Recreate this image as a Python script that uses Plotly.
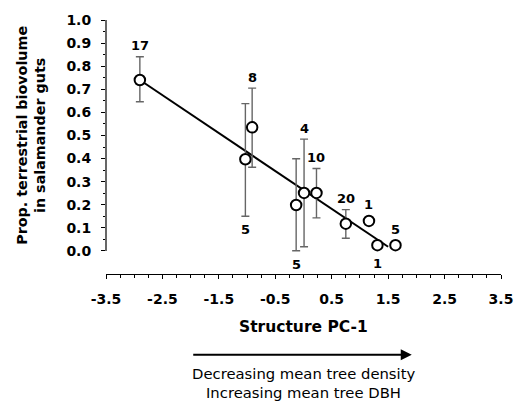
import plotly.graph_objects as go

# ---- data ----
pc1 = [-2.90, -1.03, -0.91, -0.13, 0.01, 0.23, 0.75, 1.16, 1.31, 1.63]
prop = [0.740, 0.397, 0.535, 0.199, 0.251, 0.251, 0.118, 0.130, 0.025, 0.025]
err_plus = [0.101, 0.241, 0.170, 0.200, 0.233, 0.106, 0.061, 0.0, 0.0, 0.0]
err_minus = [0.094, 0.247, 0.173, 0.198, 0.233, 0.108, 0.063, 0.0, 0.0, 0.0]
n_sal = [17, 5, 8, 5, 4, 10, 20, 1, 1, 5]
label_side = ["above", "below", "above", "below", "above", "above", "above", "above", "below", "above"]

fit_x = [-2.90, 1.50]
fit_y = [0.740, 0.018]

x_ticks = [-3.5, -2.5, -1.5, -0.5, 0.5, 1.5, 2.5, 3.5]
x_ticktext = ["-3.5", "-2.5", "-1.5", "-0.5", "0.5", "1.5", "2.5", "3.5"]
y_ticks = [0.0, 0.1, 0.2, 0.3, 0.4, 0.5, 0.6, 0.7, 0.8, 0.9, 1.0]
y_ticktext = ["0.0", "0.1", "0.2", "0.3", "0.4", "0.5", "0.6", "0.7", "0.8", "0.9", "1.0"]
y_minor = [0.05, 0.15, 0.25, 0.35, 0.45, 0.55, 0.65, 0.75, 0.85, 0.95]

x_title = "Structure PC-1"
y_title = "Prop. terrestrial biovolume<br>in salamander guts"
arrow_lines = ["Decreasing mean tree density", "Increasing mean tree DBH"]

FONT = "DejaVu Sans"

fig = go.Figure()

# regression line
fig.add_trace(go.Scatter(x=fit_x, y=fit_y, mode="lines",
                         line=dict(color="black", width=2), hoverinfo="skip",
                         showlegend=False))

# points with asymmetric error bars
fig.add_trace(go.Scatter(
    x=pc1, y=prop, mode="markers",
    marker=dict(symbol="circle", size=10.5, color="white",
                line=dict(color="black", width=2)),
    error_y=dict(type="data", symmetric=False, array=err_plus,
                 arrayminus=err_minus, color="#666666", thickness=1.4, width=4),
    showlegend=False))

annotations = []
for x, y, ep, em, n, side in zip(pc1, prop, err_plus, err_minus, n_sal, label_side):
    if side == "above":
        ya = y + ep
        shift = 11 if ep > 0 else 16
    else:
        ya = y - em
        shift = -13.5 if em > 0 else -18
    annotations.append(dict(x=x, y=ya, xref="x", yref="y", text=str(n),
                            showarrow=False, yshift=shift, yanchor="middle",
                            font=dict(family=FONT, size=13, color="black",
                                      weight="bold")))

# axis titles
annotations.append(dict(x=0.5, y=-0.207, xref="paper", yref="paper",
                        text="<b>" + x_title + "</b>", showarrow=False,
                        xanchor="center", yanchor="middle",
                        font=dict(family=FONT, size=15.5, color="black")))
annotations.append(dict(x=-0.189, y=0.5, xref="paper", yref="y",
                        text="<b>" + y_title + "</b>", showarrow=False,
                        textangle=-90, xanchor="center", yanchor="middle",
                        font=dict(family=FONT, size=14.3, color="black")))
# arrow
annotations.append(dict(x=0.774, y=-0.318, xref="paper", yref="paper",
                        ax=-220, ay=0, text="", showarrow=True,
                        arrowhead=2, arrowsize=1.1, arrowwidth=2,
                        arrowcolor="black"))
for i, line in enumerate(arrow_lines):
    annotations.append(dict(x=0.5, y=-0.390 - 0.0774 * i, xref="paper", yref="paper",
                            text=line, showarrow=False,
                            xanchor="center", yanchor="middle",
                            font=dict(family=FONT, size=14.8, color="black")))

fig.update_layout(
    width=525, height=404,
    margin=dict(l=106, r=17, t=16, b=129.5),
    paper_bgcolor="white", plot_bgcolor="white",
    font=dict(family=FONT, color="black"),
    annotations=annotations,
    shapes=[dict(type="line", xref="paper", yref="y", x0=0, x1=0, y0=0, y1=1,
                 line=dict(color="black", width=1.2))],
    xaxis=dict(range=[-3.5, 3.5], showgrid=False, zeroline=False,
               showline=True, linecolor="black", linewidth=1.2,
               tickmode="array", tickvals=x_ticks, ticktext=x_ticktext,
               ticks="outside", ticklen=4, tickcolor="black", tickwidth=1,
               ticklabelstandoff=8,
               tickfont=dict(family=FONT, size=14, color="black", weight="bold"),
               minor=dict(dtick=0.25, tick0=-3.5, ticks="outside", ticklen=3,
                          tickcolor="black", showgrid=False)),
    yaxis=dict(range=[-0.1, 1.0], showgrid=False, zeroline=False,
               showline=False,
               tickmode="array", tickvals=y_ticks, ticktext=y_ticktext,
               ticks="outside", ticklen=4, tickcolor="black", tickwidth=1,
               ticklabelstandoff=7,
               tickfont=dict(family=FONT, size=14, color="black", weight="bold"),
               minor=dict(tickmode="array", tickvals=y_minor, ticks="outside",
                          ticklen=2.5, tickcolor="black", showgrid=False)),
)

fig.write_html("out.html", config={"displayModeBar": False},
               post_script="document.body.style.margin='0';document.body.style.padding='0';")
